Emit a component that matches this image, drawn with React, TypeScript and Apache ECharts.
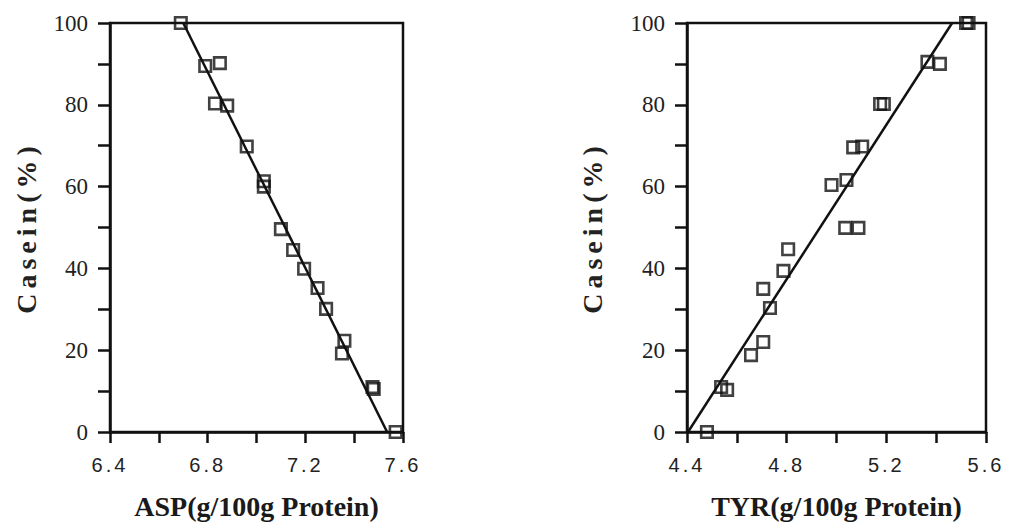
import React, { useEffect, useRef } from "react";
import * as echarts from "echarts";

// Left panel: ASP vs casein
const aspX = [6.69, 6.79, 6.85, 6.83, 6.88, 6.96, 7.03, 7.03, 7.1, 7.15, 7.195, 7.25, 7.285, 7.36, 7.35, 7.475, 7.48, 7.57];
const aspY = [100, 89.5, 90.2, 80.3, 79.8, 69.8, 61.3, 60, 49.6, 44.5, 39.9, 35.2, 30.1, 22.3, 19.2, 11, 10.5, 0];
const aspFitX = [6.7, 7.535];
const aspFitY = [100, 0];

// Right panel: TYR vs casein
const tyrX = [5.52, 5.53, 5.365, 5.415, 5.175, 5.19, 5.067, 5.103, 4.98, 5.04, 5.035, 5.088, 4.806, 4.787, 4.706, 4.733, 4.706, 4.657, 4.537, 4.561, 4.48];
const tyrY = [100, 100, 90.5, 90, 80.2, 80.2, 69.6, 69.8, 60.4, 61.6, 49.9, 49.9, 44.7, 39.4, 35, 30.3, 22, 18.8, 11, 10.3, 0];
const tyrFitX = [4.404, 5.464];
const tyrFitY = [0, 100];

const yTicks = { min: 0, max: 100, interval: 10, labelEvery: 20 };
const aspAxis = { min: 6.4, max: 7.6, interval: 0.2 };
const tyrAxis = { min: 4.4, max: 5.6, interval: 0.2 };

const yName = "Casein(%)";
const aspName = "ASP(g/100g Protein)";
const tyrName = "TYR(g/100g Protein)";

const zip = (xs: number[], ys: number[]) => xs.map((x, i) => [x, ys[i]]);

export default function App() {
  const ref = useRef<HTMLDivElement>(null);
  useEffect(() => {
    if (!ref.current) return;
    const chart = echarts.init(ref.current, undefined, { renderer: "svg" });
    const black = "#111";
    const xAxisFor = (ax: { min: number; max: number; interval: number }, name: string, gridIndex: number) => ({
      type: "value",
      gridIndex,
      min: ax.min,
      max: ax.max,
      interval: ax.interval,
      name,
      nameLocation: "middle",
      nameGap: 60,
      nameTextStyle: { fontFamily: "'Liberation Serif', serif", fontWeight: "bold", fontSize: 28, color: "#1a1a1a" },
      axisLine: { show: true, onZero: false, lineStyle: { color: black, width: 2.5 } },
      axisTick: { show: true, inside: false, length: 11, lineStyle: { color: black, width: 2.5 } },
      splitLine: { show: false },
      axisLabel: {
        margin: 23,
        fontFamily: "'Liberation Sans', Arial, sans-serif",
        fontSize: 20,
        color: "#222",
        formatter: (v: number) => (Math.round((v - ax.min) / ax.interval) % 2 === 0 ? v.toFixed(1) : ""),
      },
    });
    const yAxisFor = (gridIndex: number, nameGap: number) => ({
      type: "value",
      gridIndex,
      min: yTicks.min,
      max: yTicks.max,
      interval: yTicks.interval,
      name: yName,
      nameLocation: "middle",
      nameGap,
      nameTextStyle: { fontFamily: "'Liberation Serif', Times, serif", fontWeight: "bold", fontSize: 28, color: "#222" },
      axisLine: { show: true, lineStyle: { color: black, width: 2.5 } },
      axisTick: { show: true, inside: false, length: 12, lineStyle: { color: black, width: 2.5 } },
      splitLine: { show: false },
      axisLabel: {
        margin: 22,
        fontFamily: "'Liberation Serif', serif",
        fontSize: 23,
        color: "#222",
        formatter: (v: number) => (v % yTicks.labelEvery === 0 ? String(v) : ""),
      },
    });
    const scatter = (xi: number, data: number[][]) => ({
      type: "scatter",
      xAxisIndex: xi,
      yAxisIndex: xi,
      data,
      symbol: "rect",
      symbolSize: 11.5,
      itemStyle: { color: "rgba(0,0,0,0)", borderColor: black, borderWidth: 2.6 },
      z: 3,
    });
    const fit = (xi: number, data: number[][]) => ({
      type: "line",
      xAxisIndex: xi,
      yAxisIndex: xi,
      data,
      showSymbol: false,
      symbol: "none",
      lineStyle: { color: black, width: 2.5 },
      z: 2,
    });
    chart.setOption({
      animation: false,
      backgroundColor: "#fff",
      grid: [
        { left: 110, right: 609, top: 23, bottom: 95, show: true, borderColor: black, borderWidth: 2.5, backgroundColor: "transparent" },
        { left: 687, right: 26, top: 23, bottom: 95, show: true, borderColor: black, borderWidth: 2.5, backgroundColor: "transparent" },
      ],
      xAxis: [xAxisFor(aspAxis, aspName, 0), xAxisFor(tyrAxis, tyrName, 1)],
      yAxis: [yAxisFor(0, 70), yAxisFor(1, 81)],
      series: [
        fit(0, zip(aspFitX, aspFitY)),
        scatter(0, zip(aspX, aspY)),
        fit(1, zip(tyrFitX, tyrFitY)),
        scatter(1, zip(tyrX, tyrY)),
      ],
    });
    return () => chart.dispose();
  }, []);
  return (
    <>
      <style>{`
        .chart-root text[style*="Liberation Sans"] { letter-spacing: 3px; }
        .chart-root text[style*="Times"] { letter-spacing: 5px; }
      `}</style>
      <div
        ref={ref}
        className="chart-root"
        style={{ position: "absolute", left: 0, top: 0, width: 1012, height: 527, background: "#fff" }}
      />
    </>
  );
}
